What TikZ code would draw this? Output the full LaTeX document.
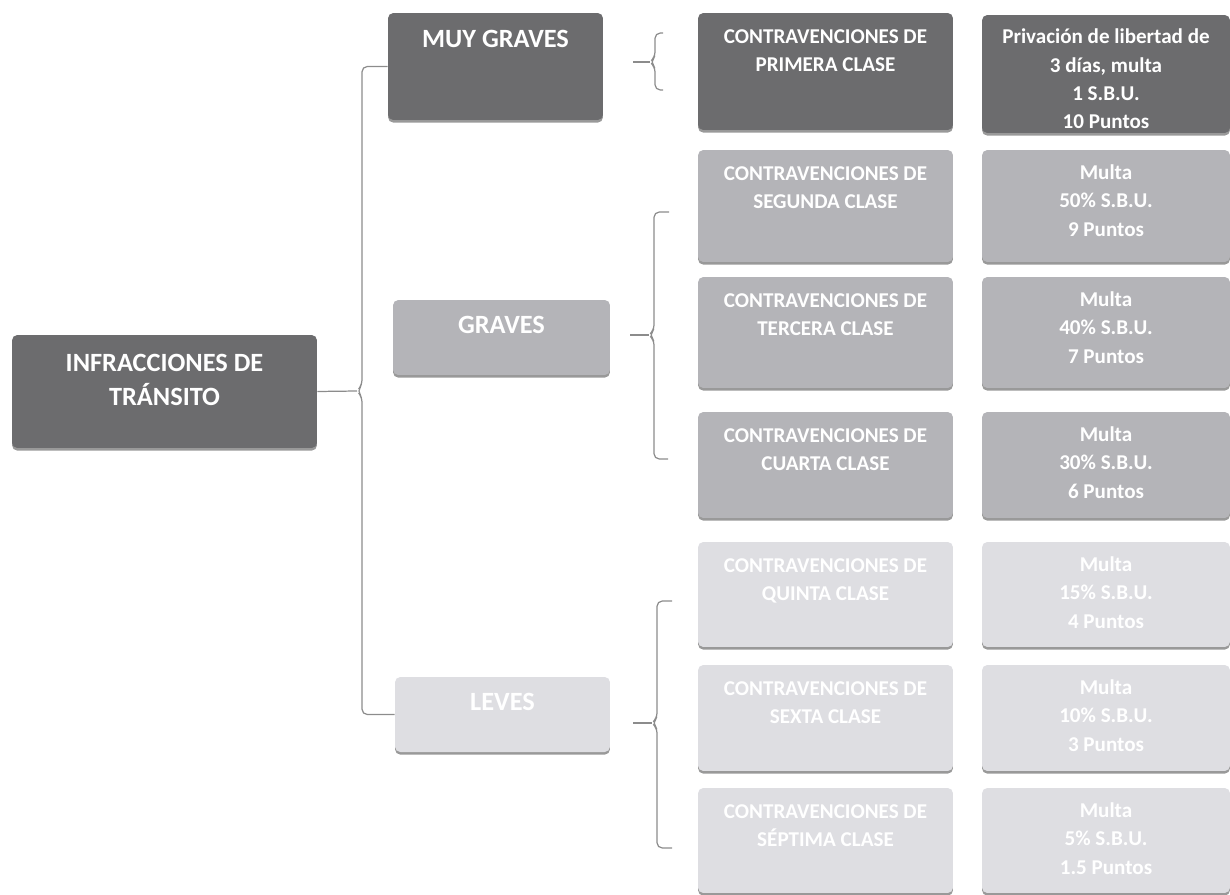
\documentclass[tikz,border=0pt]{standalone}
\usepackage{fontspec}
\setmainfont{Carlito}
\usetikzlibrary{shadows}
\definecolor{darkbox}{RGB}{108,108,110}
\definecolor{midbox}{RGB}{180,180,184}
\definecolor{lightbox}{RGB}{222,222,226}
\definecolor{bracecol}{RGB}{140,140,140}
% text at the top of a box: height, width, first baseline, text
\newcommand{\boxtext}[4]{\parbox[c][#1][t]{#2}{\centering\rule{0pt}{#3}#4}}
\tikzset{
  infobox/.style={rectangle, rounded corners=3pt, inner sep=0pt, text=white,
    font=\bfseries\fontsize{12}{16}\selectfont,
    drop shadow={shadow xshift=0pt, shadow yshift=-1.5pt, fill=black!50, opacity=0.8}},
  headbox/.style={infobox, font=\bfseries\fontsize{15}{19.3}\selectfont},
  brc/.style={draw=bracecol, line width=0.7pt, rounded corners=3pt}
}

\begin{document}
\begin{tikzpicture}[x=0.02cm, y=-0.02cm]
    \useasboundingbox (0,0) rectangle (1230,895);

    % Root and the three groups
    \node[headbox, fill=darkbox] (root) at (164.5,391.5) {\boxtext{2.26cm}{6.1cm}{20.7pt}{INFRACCIONES DE\\TRÁNSITO}};
    \node[headbox, fill=darkbox] (mg) at (495.5,66.5) {\boxtext{2.14cm}{4.3cm}{19.5pt}{MUY GRAVES}};
    \node[headbox, fill=midbox] (gr) at (501.5,337.5) {\boxtext{1.5cm}{4.34cm}{19pt}{GRAVES}};
    \node[headbox, fill=lightbox] (lv) at (502.5,714.5) {\boxtext{1.5cm}{4.3cm}{19pt}{LEVES}};

    % Classes
    \node[infobox, fill=darkbox] (c1) at (825.5,71.5) {\boxtext{2.34cm}{5.1cm}{17.5pt}{CONTRAVENCIONES DE\\PRIMERA CLASE}};
    \node[infobox, fill=midbox] (c2) at (825.5,206) {\boxtext{2.24cm}{5.1cm}{17.5pt}{CONTRAVENCIONES DE\\SEGUNDA CLASE}};
    \node[infobox, fill=midbox] (c3) at (825.5,332.5) {\boxtext{2.22cm}{5.1cm}{17.5pt}{CONTRAVENCIONES DE\\TERCERA CLASE}};
    \node[infobox, fill=midbox] (c4) at (825.5,465) {\boxtext{2.12cm}{5.1cm}{17.5pt}{CONTRAVENCIONES DE\\CUARTA CLASE}};
    \node[infobox, fill=lightbox] (c5) at (825.5,594.5) {\boxtext{2.1cm}{5.1cm}{17.5pt}{CONTRAVENCIONES DE\\QUINTA CLASE}};
    \node[infobox, fill=lightbox] (c6) at (825.5,718) {\boxtext{2.12cm}{5.1cm}{17.5pt}{CONTRAVENCIONES DE\\SEXTA CLASE}};
    \node[infobox, fill=lightbox] (c7) at (825.5,840.5) {\boxtext{2.1cm}{5.1cm}{17.5pt}{CONTRAVENCIONES DE\\SÉPTIMA CLASE}};

    % Penalties
    \node[infobox, fill=darkbox] (p1) at (1106,74) {\boxtext{2.36cm}{4.96cm}{16.5pt}{Privación de libertad de\\3 días, multa\\1 S.B.U.\\10 Puntos}};
    \node[infobox, fill=midbox] (p2) at (1106,206) {\boxtext{2.24cm}{4.96cm}{17pt}{Multa\\50\% S.B.U.\\9 Puntos}};
    \node[infobox, fill=midbox] (p3) at (1106,332.5) {\boxtext{2.22cm}{4.96cm}{17pt}{Multa\\40\% S.B.U.\\7 Puntos}};
    \node[infobox, fill=midbox] (p4) at (1106,465) {\boxtext{2.12cm}{4.96cm}{17pt}{Multa\\30\% S.B.U.\\6 Puntos}};
    \node[infobox, fill=lightbox] (p5) at (1106,594.5) {\boxtext{2.1cm}{4.96cm}{17pt}{Multa\\15\% S.B.U.\\4 Puntos}};
    \node[infobox, fill=lightbox] (p6) at (1106,718) {\boxtext{2.12cm}{4.96cm}{17pt}{Multa\\10\% S.B.U.\\3 Puntos}};
    \node[infobox, fill=lightbox] (p7) at (1106,840.5) {\boxtext{2.1cm}{4.96cm}{17pt}{Multa\\5\% S.B.U.\\1.5 Puntos}};

    % Big brace from the root
    \coordinate (k0) at (357,391);
    \draw[brc] (root.east) -- (k0);
    \draw[brc] (mg.west) -| ([shift={(5,-6)}]k0) -- (k0) -- ([shift={(5,6)}]k0) |- (lv.west);

    % Small braces
    \coordinate (k1) at (650,62);
    \coordinate (t1) at (633,62);
    \draw[brc] (t1) -- (k1);
    \draw[brc] (k1) ++(13,-29) -| ++(-8,24) -- (k1) -- ++(5,5) |- ++(8,23);

    \coordinate (k2) at (649,335);
    \coordinate (t2) at (630,335);
    \draw[brc] (t2) -- (k2);
    \draw[brc] (k2) ++(20,-123) -| ++(-15,118) -- (k2) -- ++(5,5) |- ++(14,119);

    \coordinate (k3) at (652,723);
    \coordinate (t3) at (633,723);
    \draw[brc] (t3) -- (k3);
    \draw[brc] (k3) ++(20,-122) -| ++(-15,117) -- (k3) -- ++(5,5) |- ++(15,120);
\end{tikzpicture}
\end{document}
